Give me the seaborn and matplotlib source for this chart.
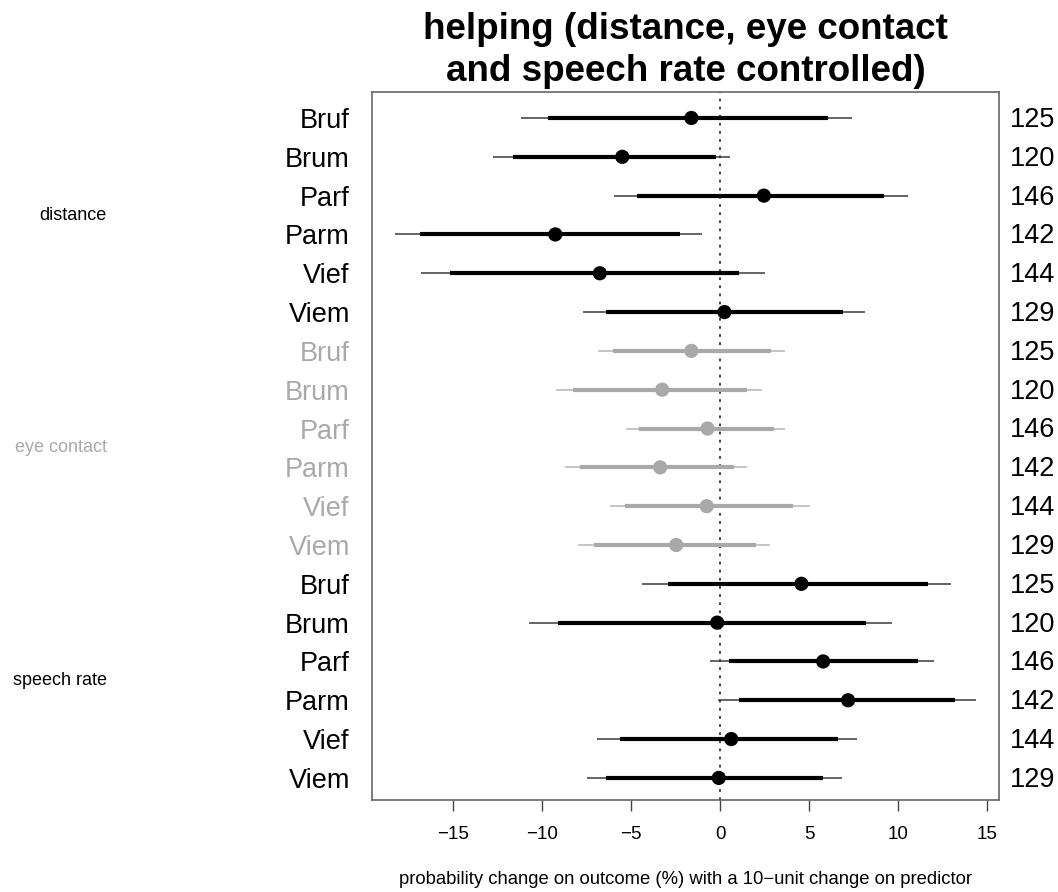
import numpy as np
import pandas as pd
import matplotlib
matplotlib.use("Agg")
import matplotlib.pyplot as plt
import seaborn as sns

sns.set_style("white")
plt.rcParams['font.family'] = ['Liberation Sans', 'DejaVu Sans']
plt.rcParams.update({"text.color": "black", "axes.labelcolor": "black",
                     "xtick.color": "black", "ytick.color": "black"})

groups = ["distance"] * 6 + ["eye contact"] * 6 + ["speech rate"] * 6
labels = ["Bruf", "Brum", "Parf", "Parm", "Vief", "Viem"] * 3
n_obs = [125, 120, 146, 142, 144, 129] * 3
estimate = [-1.62, -5.50, 2.45, -9.26, -6.76, 0.24,
            -1.62, -3.26, -0.71, -3.37, -0.76, -2.47,
            4.56, -0.17, 5.78, 7.18, 0.62, -0.08]
inner_lo = [-9.69, -11.61, -4.66, -16.87, -15.17, -6.42,
            -6.04, -8.29, -4.57, -7.87, -5.36, -7.10,
            -2.92, -9.08, 0.48, 1.04, -5.63, -6.42]
inner_hi = [6.06, -0.26, 9.21, -2.25, 1.04, 6.89,
            2.85, 1.50, 3.01, 0.80, 4.09, 1.99,
            11.69, 8.17, 11.09, 13.18, 6.62, 5.76]
outer_lo = [-11.18, -12.76, -5.97, -18.27, -16.82, -7.70,
            -6.85, -9.24, -5.27, -8.70, -6.19, -7.98,
            -4.39, -10.73, -0.58, -0.12, -6.92, -7.50]
outer_hi = [7.41, 0.57, 10.52, -1.05, 2.49, 8.15,
            3.62, 2.33, 3.62, 1.50, 5.02, 2.78,
            12.94, 9.62, 12.03, 14.36, 7.68, 6.84]
x_ticks = [-15, -10, -5, 0, 5, 10, 15]

df = pd.DataFrame({"group": groups, "label": labels, "n": n_obs,
                   "est": estimate, "ilo": inner_lo, "ihi": inner_hi,
                   "olo": outer_lo, "ohi": outer_hi})
df["row"] = np.arange(len(df))
palette = {"distance": "black", "eye contact": "#a9a9a9", "speech rate": "black"}
thin_palette = {"distance": "#3a3a3a", "eye contact": "#b5b5b5", "speech rate": "#3a3a3a"}
df["color"] = df["group"].map(palette)
df["thin"] = df["group"].map(thin_palette)

fig = plt.figure(figsize=(10.58, 8.92), dpi=100)
ax = fig.add_axes([0.3516, 0.1031, 0.5926, 0.7938])

ax.axvline(0, color="#333333", lw=1.3, ls=(0, (1.5, 3)), zorder=1)
ax.hlines(df["row"], df["olo"], df["ohi"], colors=df["thin"], lw=1.1, zorder=2)
ax.hlines(df["row"], df["ilo"], df["ihi"], colors=df["color"], lw=3.0, zorder=3)
sns.scatterplot(data=df, x="est", y="row", hue="group", palette=palette,
                s=105, edgecolor="none", legend=False, zorder=4, ax=ax)

ax.set_xlim(-19.55, 15.65)
ax.set_ylim(17.57, -0.67)
ax.set_xticks(x_ticks)
ax.set_xticklabels([str(t).replace("-", "\u2212") for t in x_ticks], fontsize=13.5)
ax.set_yticks(df["row"])
ax.set_yticklabels(df["label"], fontsize=19.5)
for tl, c in zip(ax.get_yticklabels(), df["color"]):
    tl.set_color(c)
ax.tick_params(axis="y", length=0, pad=16)
ax.tick_params(axis="x", length=8, width=1, color="#444444", direction="out",
               pad=11, bottom=True)
ax.set_xlabel("probability change on outcome (%) with a 10\u2212unit change on predictor",
              fontsize=13.3, labelpad=20)
ax.set_ylabel("")
for sp in ax.spines.values():
    sp.set_color("#666666")
    sp.set_linewidth(1.2)
ax.grid(False)

trans = ax.get_yaxis_transform()
for r, nn in zip(df["row"], df["n"]):
    ax.text(1.018, r + 0.05, str(nn), transform=trans, ha="left", va="center",
            fontsize=19.5, color="black")

btrans = matplotlib.transforms.blended_transform_factory(fig.transFigure, ax.transData)
for g, mid in [("distance", 2.5), ("eye contact", 8.5), ("speech rate", 14.5)]:
    ax.text(0.101, mid, g, transform=btrans, ha="right", va="center",
            fontsize=13, color=palette[g])

fig.suptitle("helping (distance, eye contact\nand speech rate controlled)",
             x=0.648, y=0.986, fontsize=26.5, fontweight="bold", linespacing=1.25,
             color="black")

fig.savefig("out.png", dpi=100)
